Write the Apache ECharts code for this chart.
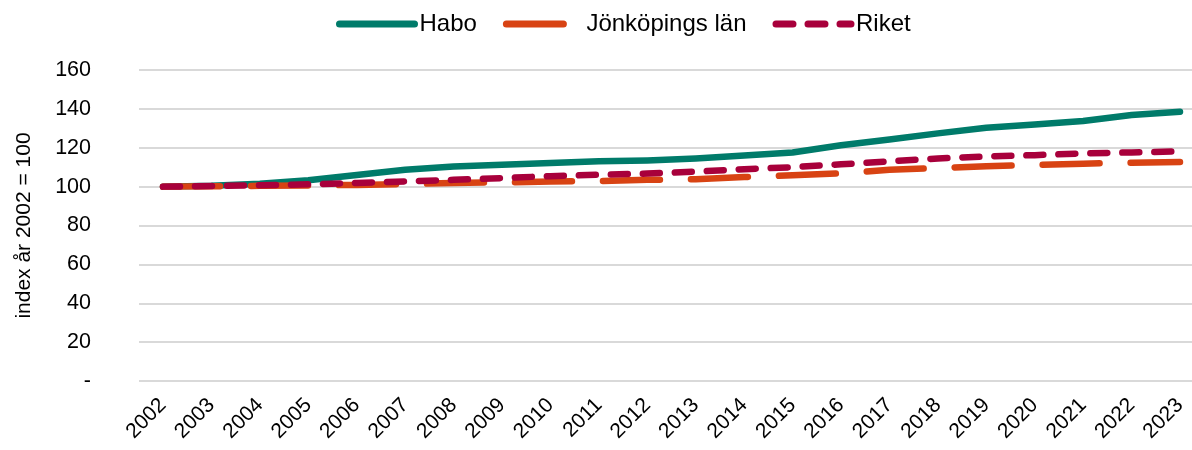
<!DOCTYPE html>
<html>
<head>
<meta charset="utf-8">
<script src="https://cdn.jsdelivr.net/npm/echarts@6/dist/echarts.min.js"></script>
<style>
html,body{margin:0;padding:0;background:#fff;}
#chart{width:1192px;height:450px;}
</style>
</head>
<body>
<div id="chart"></div>
<script>
const years = ['2002','2003','2004','2005','2006','2007','2008','2009','2010','2011','2012','2013','2014','2015','2016','2017','2018','2019','2020','2021','2022','2023'];
const habo = [100, 100.4, 101.5, 103.3, 106, 108.7, 110.3, 111.3, 112.2, 113, 113.5, 114.5, 116, 117.6, 121.3, 124.2, 127.4, 130.3, 132, 133.8, 136.8, 138.5];
const jonkoping = [100, 100.2, 100.4, 100.6, 100.9, 101.3, 101.9, 102.2, 102.6, 102.9, 103.5, 103.8, 104.9, 105.8, 106.8, 108.7, 109.5, 110.5, 111.2, 111.8, 112.3, 112.7];
const riket = [100, 100.3, 100.7, 101.2, 101.9, 102.7, 103.5, 104.4, 105.4, 106.1, 106.7, 107.7, 109, 110, 111.5, 113, 114.5, 115.5, 116.2, 117.1, 117.6, 118.1];
const seriesNames = ['Habo', 'Jönköpings län', 'Riket'];
const yAxisName = 'index år 2002 = 100';
const yTicks = { min: 0, max: 160, interval: 20 };

const colors = ['#007B6A', '#D84313', '#A8003B'];
const dashes = ['solid', [57, 31], [17, 15]];
const font = 'Liberation Sans, Arial, sans-serif';

const chart = echarts.init(document.getElementById('chart'));
chart.setOption({
  animation: false,
  backgroundColor: '#fff',
  legend: {
    top: 7,
    left: 331,
    itemWidth: 75,
    itemHeight: 14,
    itemGap: 26,
    textStyle: { fontFamily: font, fontSize: 24, color: '#000' },
    data: seriesNames.map((n, i) => ({
      name: n,
      itemStyle: { opacity: 0 },
      lineStyle: { color: colors[i], width: 7, type: dashes[i], cap: 'round' }
    }))
  },
  grid: [
    { left: 139, right: 0, top: 70, height: 311 },
    { left: 163, right: 12, top: 70, height: 311 }
  ],
  xAxis: [
    {
      gridIndex: 0, type: 'category', data: years, show: false
    },
    {
      gridIndex: 1, type: 'category', data: years, boundaryGap: false,
      axisLine: { show: false },
      axisTick: { show: false },
      splitLine: { show: false },
      axisLabel: { rotate: 45, fontFamily: font, fontSize: 21, color: '#000', margin: 21, interval: 0 }
    }
  ],
  yAxis: [
    {
      gridIndex: 0, type: 'value',
      min: yTicks.min, max: yTicks.max, interval: yTicks.interval,
      name: yAxisName,
      nameLocation: 'middle',
      nameGap: 104,
      nameTextStyle: { fontFamily: font, fontSize: 21, color: '#000' },
      axisLine: { show: false },
      axisTick: { show: false },
      axisLabel: {
        fontFamily: font, fontSize: 21.5, color: '#000', margin: 48,
        formatter: v => v === 0 ? '-' : String(v)
      },
      splitLine: { lineStyle: { color: '#d9d9d9', width: 2 } }
    },
    {
      gridIndex: 1, type: 'value',
      min: yTicks.min, max: yTicks.max, interval: yTicks.interval,
      show: false, splitLine: { show: false }
    }
  ],
  series: [
    {
      name: seriesNames[0], type: 'line', data: habo, symbol: 'none', z: 2,
      xAxisIndex: 1, yAxisIndex: 1,
      lineStyle: { color: colors[0], width: 6.5, cap: 'round', join: 'round' },
      itemStyle: { color: colors[0] }
    },
    {
      name: seriesNames[1], type: 'line', data: jonkoping, symbol: 'none', z: 3,
      xAxisIndex: 1, yAxisIndex: 1,
      lineStyle: { color: colors[1], width: 6.5, type: dashes[1], cap: 'round', join: 'round' },
      itemStyle: { color: colors[1] }
    },
    {
      name: seriesNames[2], type: 'line', data: riket, symbol: 'none', z: 4,
      xAxisIndex: 1, yAxisIndex: 1,
      lineStyle: { color: colors[2], width: 6.5, type: dashes[2], cap: 'round', join: 'round' },
      itemStyle: { color: colors[2] }
    }
  ]
});
</script>
</body>
</html>
